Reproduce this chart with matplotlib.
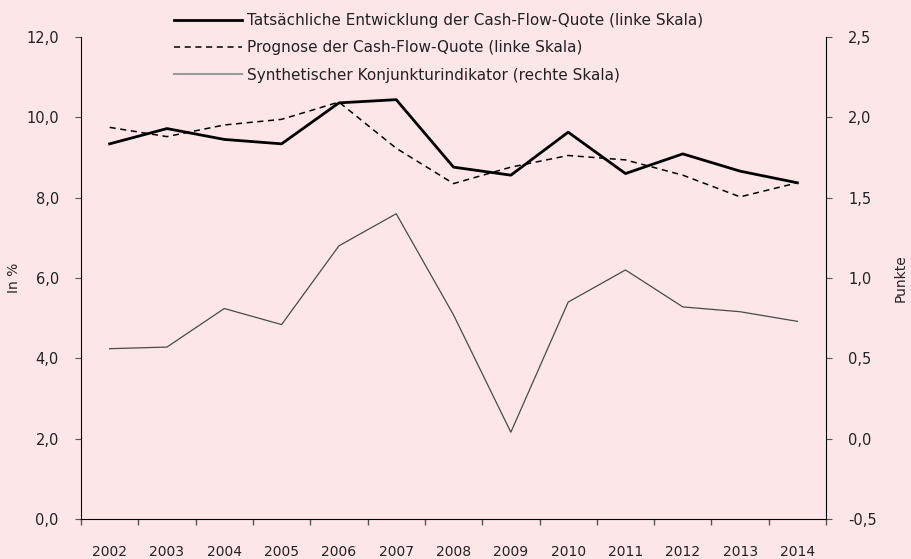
# encoding: utf-8
import numpy as np
import matplotlib
matplotlib.use("Agg")
import matplotlib.pyplot as plt
from matplotlib.ticker import FuncFormatter, FixedLocator

years = ["2002", "2003", "2004", "2005", "2006", "2007", "2008",
         "2009", "2010", "2011", "2012", "2013", "2014"]
quote_ist = [9.34, 9.72, 9.45, 9.34, 10.36, 10.44, 8.76,
             8.56, 9.63, 8.60, 9.09, 8.66, 8.37]
quote_prognose = [9.75, 9.52, 9.81, 9.95, 10.38, 9.23, 8.35,
                  8.76, 9.05, 8.94, 8.56, 8.02, 8.37]
indikator = [0.56, 0.57, 0.81, 0.71, 1.20, 1.40, 0.77,
             0.04, 0.85, 1.05, 0.82, 0.79, 0.73]

left_ticks = [0, 2, 4, 6, 8, 10, 12]
right_ticks = [-0.5, 0.0, 0.5, 1.0, 1.5, 2.0, 2.5]


def komma(v, pos):
    return ("%.1f" % v).replace(".", ",")


def main():
    plt.rcParams["font.family"] = ["DejaVu Sans"]
    bg = "#fde6e8"
    fs = 10.5
    fig = plt.figure(figsize=(9.12, 5.59), dpi=100, facecolor=bg)
    ax = fig.add_axes([0.0888, 0.0716, 0.817, 0.8622])
    ax.set_facecolor(bg)
    ax2 = ax.twinx()

    x = np.arange(len(years))
    l1, = ax.plot(x, quote_ist, color="black", linewidth=2.0,
                  label="Tatsächliche Entwicklung der Cash-Flow-Quote (linke Skala)")
    l2, = ax.plot(x, quote_prognose, color="black", linewidth=1.1, linestyle=(0, (4, 3)),
                  label="Prognose der Cash-Flow-Quote (linke Skala)")
    l3, = ax2.plot(x, indikator, color="#4a4a4a", linewidth=0.9,
                   label="Synthetischer Konjunkturindikator (rechte Skala)")

    ax.set_xlim(-0.5, len(years) - 0.5)
    ax.set_ylim(0, 12)
    ax2.set_ylim(-0.5, 2.5)
    ax.set_yticks(left_ticks)
    ax2.set_yticks(right_ticks)
    ax.yaxis.set_major_formatter(FuncFormatter(komma))
    ax2.yaxis.set_major_formatter(FuncFormatter(komma))

    ax.xaxis.set_major_locator(FixedLocator(np.arange(len(years) + 1) - 0.5))
    ax.xaxis.set_minor_locator(FixedLocator(x))
    ax.set_xticklabels([""] * (len(years) + 1))
    ax.set_xticklabels(years, minor=True)
    ax.tick_params(axis="x", which="minor", length=0, pad=19, labelsize=10, labelcolor="#222222")
    ax.tick_params(axis="x", which="major", length=4, color="#555555", width=1)
    ax.tick_params(axis="y", length=4, color="#555555", pad=12, labelsize=fs, labelcolor="#222222")
    ax2.tick_params(axis="y", length=4, color="#555555", pad=12, labelsize=fs, labelcolor="#222222")

    for a in (ax, ax2):
        a.spines["top"].set_visible(False)
    ax2.spines["left"].set_visible(False)
    ax2.spines["bottom"].set_visible(False)
    ax.spines["right"].set_visible(False)

    ax.set_ylabel("In %", fontsize=10, color="#222222", labelpad=4)
    ax2.set_ylabel("Punkte", fontsize=10, color="#222222", labelpad=12)

    leg = ax.legend(handles=[l1, l2, l3], loc="upper left", bbox_to_anchor=(0.107, 1.078),
                    frameon=False, fontsize=11, handlelength=4.4, handletextpad=0.35,
                    labelspacing=0.8)
    leg.legend_handles[2].set_color("#9a9a9a")
    leg.legend_handles[2].set_linewidth(1.5)
    for t in leg.get_texts():
        t.set_color("#222222")

    fig.savefig("out.png", dpi=100, facecolor=bg)


if __name__ == '__main__':
    main()
